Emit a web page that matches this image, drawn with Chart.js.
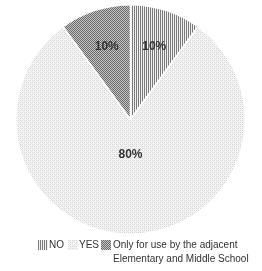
<!DOCTYPE html>
<html>
<head>
<meta charset="utf-8">
<script src="https://cdn.jsdelivr.net/npm/chart.js@4/dist/chart.umd.min.js"></script>
<style>
  html, body { margin: 0; padding: 0; background: #fff; }
  #wrap { position: relative; width: 262px; height: 271px; }
  #leyenda {
    position: absolute; left: 0; top: 238px; width: 262px; height: 33px; white-space: nowrap;
    font-family: "Liberation Sans", Arial, sans-serif; font-size: 10px; color: #333; line-height: 14px;
  }
  #leyenda canvas { position: absolute; top: 2px; width: 10px; height: 10px; }
  #leyenda span { position: absolute; top: 0; }
</style>
</head>
<body>
<div id="wrap">
  <canvas id="chartPie" width="262" height="271"></canvas>
  <div id="leyenda"></div>
</div>
<script>
// datos del gráfico
const categorias = ["NO", "YES", "Only for use by the adjacent\nElementary and Middle School"]
const valores = [10, 80, 10]
const etiquetas = ["10%", "80%", "10%"]

// patrones tipo Excel (blanco y negro)
function crearPatron(tipo) {
  const c = document.createElement("canvas")
  const g = c.getContext("2d")
  if (tipo === "rayas") {
    c.width = 2; c.height = 2
    g.fillStyle = "#f2f2f2"; g.fillRect(0, 0, 2, 2)
    g.fillStyle = "#7a7a7a"; g.fillRect(0, 0, 1, 2)
  } else if (tipo === "puntos") {
    c.width = 4; c.height = 4
    g.fillStyle = "#f6f6f6"; g.fillRect(0, 0, 4, 4)
    g.fillStyle = "#d6d6d6"
    g.fillRect(0, 0, 1, 1); g.fillRect(2, 2, 1, 1)
    g.fillRect(0, 2, 1, 1); g.fillRect(2, 0, 1, 1)
    g.fillStyle = "#e6e6e6"; g.fillRect(1, 1, 1, 1); g.fillRect(3, 3, 1, 1)
  } else {
    c.width = 2; c.height = 2
    g.fillStyle = "#c4c4c4"; g.fillRect(0, 0, 2, 2)
    g.fillStyle = "#6a6a6a"; g.fillRect(0, 0, 1, 1); g.fillRect(1, 1, 1, 1)
  }
  return c
}

const lienzos = [crearPatron("rayas"), crearPatron("puntos"), crearPatron("cuadros")]
const ctx = document.getElementById("chartPie")
const patrones = lienzos.map((l) => ctx.getContext("2d").createPattern(l, "repeat"))

// etiquetas de porcentaje dentro de cada porción
const radioEtiqueta = [0.67, 0.31, 0.67]
const pluginEtiquetas = {
  id: "etiquetas",
  afterDatasetsDraw(chart) {
    const g = chart.ctx
    const meta = chart.getDatasetMeta(0)
    g.save()
    g.font = "bold 12px 'Liberation Sans', Arial, sans-serif"
    g.fillStyle = "#333"
    g.textAlign = "center"
    g.textBaseline = "middle"
    meta.data.forEach((arc, i) => {
      const p = arc.getProps(["x", "y", "startAngle", "endAngle", "outerRadius"], true)
      const a = (p.startAngle + p.endAngle) / 2
      const r = p.outerRadius * radioEtiqueta[i]
      g.fillText(etiquetas[i], p.x + Math.cos(a) * r, p.y + Math.sin(a) * r)
    })
    g.restore()
  },
}

new Chart(ctx, {
  type: "pie",
  data: {
    labels: categorias,
    datasets: [
      {
        data: valores,
        backgroundColor: patrones,
        borderColor: "#ffffff",
        borderWidth: 1.5,
      },
    ],
  },
  options: {
    responsive: false,
    animation: false,
    layout: { padding: { top: 4, bottom: 36, left: 15, right: 16 } },
    plugins: { legend: { display: false }, tooltip: { enabled: false } },
  },
  plugins: [pluginEtiquetas],
})

// leyenda en HTML con los mismos patrones (posiciones como en el original)
const posMuestra = [38, 68, 101]
const posTexto = [49, 79, 113]
const leyenda = document.getElementById("leyenda")
categorias.forEach((cat, i) => {
  const m = document.createElement("canvas")
  m.width = 10; m.height = 10
  m.style.left = posMuestra[i] + "px"
  const mg = m.getContext("2d")
  mg.fillStyle = mg.createPattern(lienzos[i], "repeat")
  mg.fillRect(0, 0, 10, 10)
  const t = document.createElement("span")
  t.style.left = posTexto[i] + "px"
  t.innerHTML = cat.replace("\n", "<br>")
  leyenda.appendChild(m)
  leyenda.appendChild(t)
})
</script>
</body>
</html>
